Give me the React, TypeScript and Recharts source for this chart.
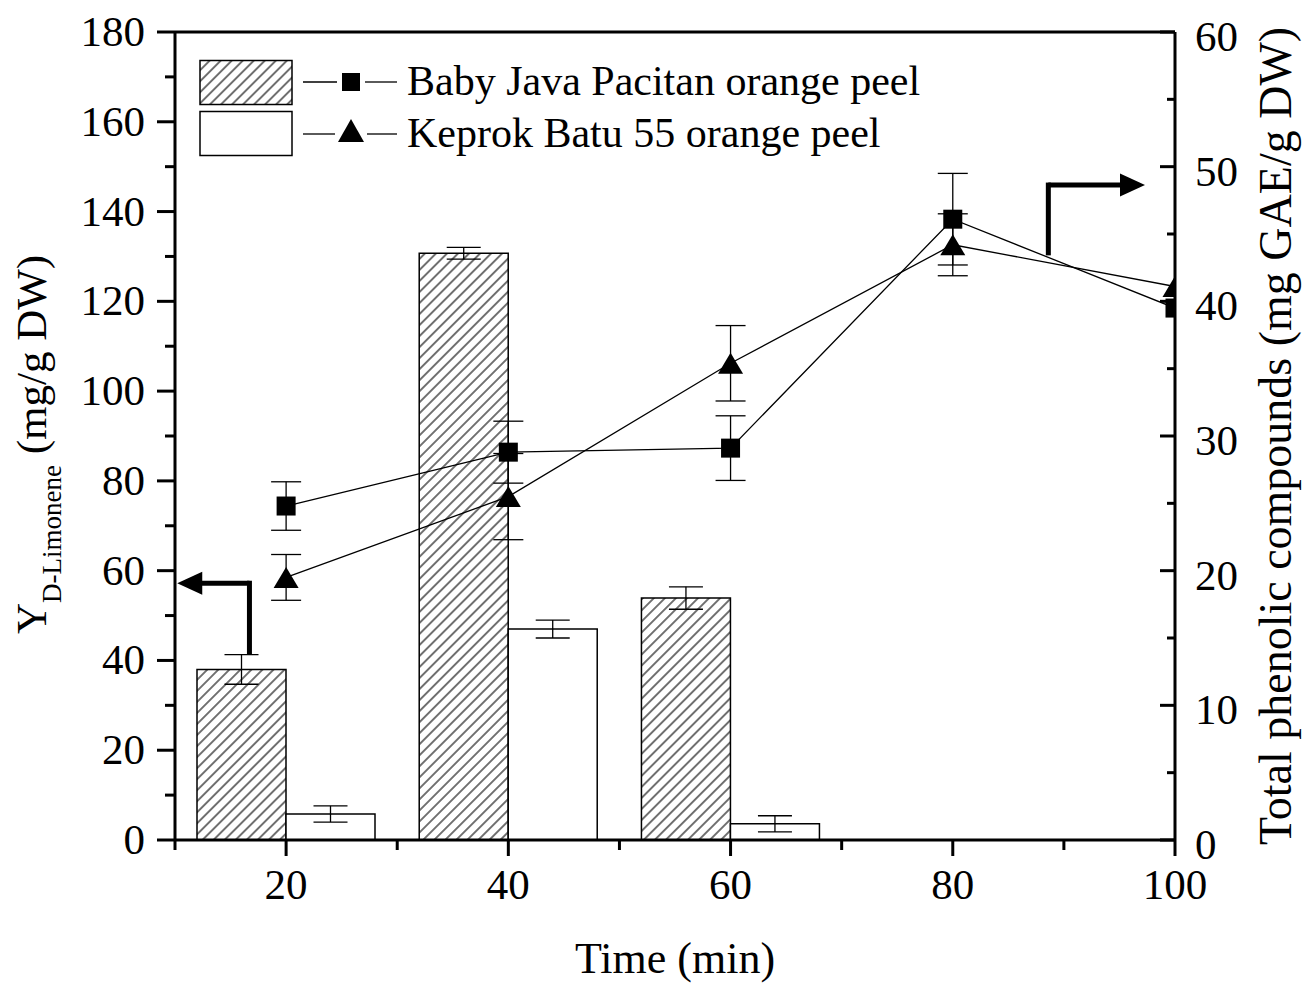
import React from 'react';
import { ComposedChart, Bar, Line, XAxis, YAxis, ErrorBar, ReferenceLine, Legend } from 'recharts';

const FONT = '"Liberation Serif", "Times New Roman", Times, serif';

// ---- data ----
const times = [20, 40, 60, 80, 100];
// D-limonene yield (left axis, mg/g DW)
const bjLimonene = [38.0, 130.7, 53.9, null, null];
const bjLimoneneErr = [3.3, 1.3, 2.5, null, null];
const kbLimonene = [5.8, 47.0, 3.6, null, null];
const kbLimoneneErr = [1.8, 2.0, 1.8, null, null];
// Total phenolic compounds (right axis, mg GAE/g DW)
const bjPhenolic = [24.8, 28.8, 29.1, 46.1, 39.5];
const bjPhenolicErr = [1.8, 2.3, 2.4, 3.4, null];
const kbPhenolic = [19.5, 25.5, 35.4, 44.2, 41.1];
const kbPhenolicErr = [1.7, 3.2, 2.8, 2.3, null];

// ---- ticks ----
const xTicks = [10, 20, 30, 40, 50, 60, 70, 80, 90, 100];
const xMajorTicks = [20, 40, 60, 80, 100];
const leftTicks = [0, 10, 20, 30, 40, 50, 60, 70, 80, 90, 100, 110, 120, 130, 140, 150, 160, 170, 180];
const rightTicks = [0, 5, 10, 15, 20, 25, 30, 35, 40, 45, 50, 55, 60];

// ---- annotation arrows (data coordinates: x, left-axis y) ----
const leftArrowStem = [{ x: 16.7, y: 41.9 }, { x: 16.7, y: 57.2 }];
const leftArrowHead = [{ x: 16.7, y: 57.2 }, { x: 10.2, y: 57.2 }];
const rightArrowStem = [{ x: 88.6, y: 130.8 }, { x: 88.6, y: 145.9 }];
const rightArrowHead = [{ x: 88.6, y: 145.9 }, { x: 97.3, y: 145.9 }];

const data = times.map((t, i) => ({
  time: t,
  bjL: bjLimonene[i],
  bjLErr: bjLimoneneErr[i],
  kbL: kbLimonene[i],
  kbLErr: kbLimoneneErr[i],
  bjP: bjPhenolic[i],
  bjPErr: bjPhenolicErr[i],
  kbP: kbPhenolic[i],
  kbPErr: kbPhenolicErr[i],
}));

const LeftTick = (props: any) => {
  const { x, y, payload } = props;
  const v = payload.value;
  const major = v % 20 === 0;
  return (
    <g>
      <line x1={x} x2={x - (major ? 18 : 10)} y1={y} y2={y} stroke="#000" strokeWidth={3} />
      {major && (
        <text x={x - 30} y={y + 14} textAnchor="end" fontSize={43} fontFamily={FONT} fill="#000">
          {v}
        </text>
      )}
    </g>
  );
};

const RightTick = (props: any) => {
  const { x, y, payload } = props;
  const v = payload.value;
  const major = v % 10 === 0;
  return (
    <g>
      <line x1={x} x2={x - (major ? 15 : 8)} y1={y} y2={y} stroke="#000" strokeWidth={3} />
      {major && (
        <text x={x + 20} y={y + 19} textAnchor="start" fontSize={43} fontFamily={FONT} fill="#000">
          {v}
        </text>
      )}
    </g>
  );
};

const BottomTick = (props: any) => {
  const { x, y, payload } = props;
  const v = payload.value;
  const major = v % 20 === 0;
  return (
    <g>
      <line x1={x} x2={x} y1={y} y2={y + (major ? 16 : 10)} stroke="#000" strokeWidth={3} />
      {major && (
        <text x={x} y={y + 59} textAnchor="middle" fontSize={43} fontFamily={FONT} fill="#000">
          {v}
        </text>
      )}
    </g>
  );
};

const XLabel = () => (
  <text x={675} y={973} textAnchor="middle" fontSize={44} fontFamily={FONT} fill="#000">
    Time (min)
  </text>
);

const LeftLabel = () => (
  <text transform="translate(46,634) rotate(-90)" fontSize={43} fontFamily={FONT} fill="#000">
    <tspan>Y</tspan>
    <tspan fontSize={27} dy={15}>D-Limonene</tspan>
    <tspan dy={-15}> (mg/g DW)</tspan>
  </text>
);

const RightLabel = () => (
  <text transform="translate(1291,436) rotate(-90)" textAnchor="middle" fontSize={46} fontFamily={FONT} fill="#000">
    Total phenolic compounds (mg GAE/g DW)
  </text>
);

const SquareDot = (p: any) => {
  const { cx, cy } = p;
  if (cx == null || cy == null) return <g />;
  return <rect x={cx - 9.5} y={cy - 9.5} width={19} height={19} fill="#000" />;
};

const TriangleDot = (p: any) => {
  const { cx, cy } = p;
  if (cx == null || cy == null) return <g />;
  return <polygon points={`${cx},${cy - 10.5} ${cx - 12.5},${cy + 10.5} ${cx + 12.5},${cy + 10.5}`} fill="#000" />;
};

const StemShape = (p: any) => (
  <line x1={p.x1} y1={p.y1} x2={p.x2} y2={p.y2} stroke="#000" strokeWidth={5} strokeLinecap="square" />
);

const ArrowShape = (p: any) => {
  const { x1, y1, x2, y2 } = p;
  const dx = x2 - x1;
  const dy = y2 - y1;
  const len = Math.hypot(dx, dy) || 1;
  const ux = dx / len;
  const uy = dy / len;
  const headL = 25;
  const headW = 11.5;
  const bx = x2 - ux * headL;
  const by = y2 - uy * headL;
  return (
    <g>
      <line x1={x1} y1={y1} x2={bx + ux * 2} y2={by + uy * 2} stroke="#000" strokeWidth={5} />
      <polygon
        points={`${x2},${y2} ${bx - uy * headW},${by + ux * headW} ${bx + uy * headW},${by - ux * headW}`}
        fill="#000"
      />
    </g>
  );
};

const LegendContent = () => (
  <svg width={1303} height={200} style={{ display: 'block' }}>
    <defs>
      <pattern id="hatchLegend" patternUnits="userSpaceOnUse" width={7.8} height={7.8} patternTransform="rotate(45)">
        <line x1={3.9} y1={0} x2={3.9} y2={7.8} stroke="#000" strokeWidth={1.1} />
      </pattern>
    </defs>
    <rect x={200} y={60.5} width={92} height={44} fill="url(#hatchLegend)" stroke="#000" strokeWidth={1.5} />
    <rect x={200} y={111.5} width={92} height={44} fill="#fff" stroke="#000" strokeWidth={1.5} />
    <line x1={303} x2={337} y1={82} y2={82} stroke="#000" strokeWidth={1.3} />
    <line x1={365} x2={397} y1={82} y2={82} stroke="#000" strokeWidth={1.3} />
    <rect x={342} y={73} width={18} height={18} fill="#000" />
    <line x1={303} x2={335} y1={134} y2={134} stroke="#000" strokeWidth={1.3} />
    <line x1={367} x2={397} y1={134} y2={134} stroke="#000" strokeWidth={1.3} />
    <polygon points="351,119 338,142 364,142" fill="#000" />
    <text x={407} y={95} fontSize={42} fontFamily={FONT} fill="#000">
      Baby Java Pacitan orange peel
    </text>
    <text x={407} y={147} fontSize={42} fontFamily={FONT} fill="#000">
      Keprok Batu 55 orange peel
    </text>
  </svg>
);

export default function App() {
  return (
    <div style={{ position: 'absolute', left: 0, top: 0, width: 1303, height: 984, background: '#fff' }}>
      <ComposedChart
        width={1303}
        height={984}
        data={data}
        margin={{ top: 32, right: 0, bottom: 0, left: 0 }}
        barGap={0}
        barCategoryGap={0}
      >
        <defs>
          <pattern id="hatch" patternUnits="userSpaceOnUse" width={7.8} height={7.8} patternTransform="rotate(45)">
            <line x1={3.9} y1={0} x2={3.9} y2={7.8} stroke="#000" strokeWidth={1.1} />
          </pattern>
        </defs>
        <XAxis
          xAxisId="x"
          dataKey="time"
          type="number"
          domain={[10, 100]}
          allowDataOverflow
          ticks={xTicks}
          interval={0}
          tickSize={0}
          tickMargin={0}
          tickLine={false}
          tick={<BottomTick />}
          axisLine={{ stroke: '#000', strokeWidth: 3 }}
          height={144}
          label={XLabel}
        />
        <XAxis
          xAxisId="xb"
          dataKey="time"
          type="number"
          domain={[10, 100]}
          allowDataOverflow
          ticks={xMajorTicks}
          hide
        />
        <YAxis
          yAxisId="left"
          type="number"
          domain={[0, 180]}
          allowDataOverflow
          ticks={leftTicks}
          interval={0}
          tickSize={0}
          tickMargin={0}
          tickLine={false}
          tick={<LeftTick />}
          axisLine={{ stroke: '#000', strokeWidth: 3 }}
          width={175}
          label={LeftLabel}
        />
        <YAxis
          yAxisId="right"
          orientation="right"
          type="number"
          domain={[0, 60]}
          allowDataOverflow
          ticks={rightTicks}
          interval={0}
          tickSize={0}
          tickMargin={0}
          tickLine={false}
          tick={<RightTick />}
          axisLine={{ stroke: '#000', strokeWidth: 3 }}
          width={128}
          label={RightLabel}
        />
        <ReferenceLine yAxisId="left" xAxisId="x" y={180} stroke="#000" strokeWidth={3} ifOverflow="visible" />
        <Bar
          xAxisId="xb"
          yAxisId="left"
          dataKey="bjL"
          barSize={89}
          fill="url(#hatch)"
          stroke="#000"
          strokeWidth={1.5}
          isAnimationActive={false}
        >
          <ErrorBar dataKey="bjLErr" direction="y" width={17} stroke="#000" strokeWidth={1.3} />
        </Bar>
        <Bar
          xAxisId="xb"
          yAxisId="left"
          dataKey="kbL"
          barSize={89}
          fill="#fff"
          stroke="#000"
          strokeWidth={1.5}
          isAnimationActive={false}
        >
          <ErrorBar dataKey="kbLErr" direction="y" width={17} stroke="#000" strokeWidth={1.3} />
        </Bar>
        <Line
          xAxisId="x"
          yAxisId="right"
          dataKey="bjP"
          type="linear"
          stroke="#000"
          strokeWidth={1.3}
          dot={<SquareDot />}
          activeDot={false}
          isAnimationActive={false}
        >
          <ErrorBar dataKey="bjPErr" direction="y" width={15} stroke="#000" strokeWidth={1.3} />
        </Line>
        <Line
          xAxisId="x"
          yAxisId="right"
          dataKey="kbP"
          type="linear"
          stroke="#000"
          strokeWidth={1.3}
          dot={<TriangleDot />}
          activeDot={false}
          isAnimationActive={false}
        >
          <ErrorBar dataKey="kbPErr" direction="y" width={15} stroke="#000" strokeWidth={1.3} />
        </Line>
        <ReferenceLine xAxisId="x" yAxisId="left" segment={leftArrowStem} shape={StemShape} ifOverflow="visible" />
        <ReferenceLine xAxisId="x" yAxisId="left" segment={leftArrowHead} shape={ArrowShape} ifOverflow="visible" />
        <ReferenceLine xAxisId="x" yAxisId="left" segment={rightArrowStem} shape={StemShape} ifOverflow="visible" />
        <ReferenceLine xAxisId="x" yAxisId="left" segment={rightArrowHead} shape={ArrowShape} ifOverflow="visible" />
        <Legend
          verticalAlign="middle"
          align="center"
          layout="horizontal"
          content={LegendContent}
          wrapperStyle={{ left: 0, top: 0, width: 1303, height: 200 }}
        />
      </ComposedChart>
    </div>
  );
}
